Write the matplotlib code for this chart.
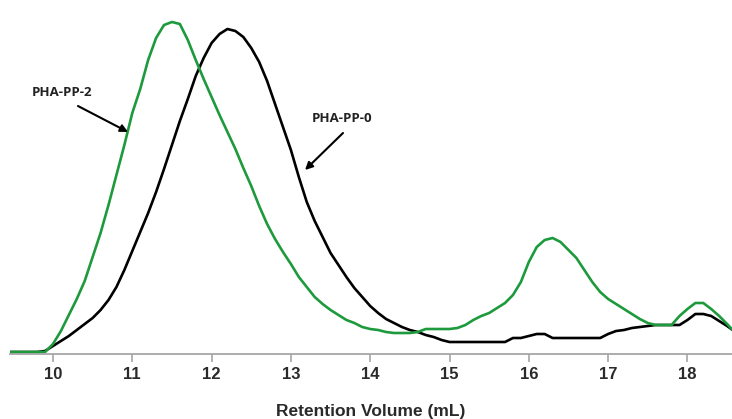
import matplotlib
matplotlib.use("Agg")
import matplotlib.pyplot as plt

volume = [9.45, 9.5, 9.6, 9.7, 9.8, 9.9,
          10.0, 10.1, 10.2, 10.3, 10.4, 10.5, 10.6, 10.7, 10.8, 10.9,
          11.0, 11.1, 11.2, 11.3, 11.4, 11.5, 11.6, 11.7, 11.8, 11.9,
          12.0, 12.1, 12.2, 12.3, 12.4, 12.5, 12.6, 12.7, 12.8, 12.9,
          13.0, 13.1, 13.2, 13.3, 13.4, 13.5, 13.6, 13.7, 13.8, 13.9,
          14.0, 14.1, 14.2, 14.3, 14.4, 14.5, 14.6, 14.7, 14.8, 14.9,
          15.0, 15.1, 15.2, 15.3, 15.4, 15.5, 15.6, 15.7, 15.8, 15.9,
          16.0, 16.1, 16.2, 16.3, 16.4, 16.5, 16.6, 16.7, 16.8, 16.9,
          17.0, 17.1, 17.2, 17.3, 17.4, 17.5, 17.6, 17.7, 17.8, 17.9,
          18.0, 18.1, 18.2, 18.3, 18.4, 18.5, 18.57]

pha_pp_2 = [2, 2, 2, 2, 2, 2,
            10, 23, 39, 55, 73, 97, 121, 149, 179, 209,
            241, 265, 294, 316, 329, 332, 330, 314, 294, 275,
            257, 239, 222, 205, 186, 168, 148, 130, 115, 102,
            90, 77, 67, 57, 50, 44, 39, 34, 31, 27,
            25, 24, 22, 21, 21, 21, 22, 25, 25, 25,
            25, 26, 29, 34, 38, 41, 46, 51, 59, 72,
            92, 107, 114, 116, 112, 104, 96, 84, 72, 62,
            55, 50, 45, 40, 35, 31, 29, 29, 29, 38,
            45, 51, 51, 45, 38, 30, 24]

pha_pp_0 = [2, 2, 2, 2, 2, 3,
            8, 13, 18, 24, 30, 36, 44, 54, 67, 84,
            103, 122, 141, 162, 185, 209, 233, 255, 278, 296,
            311, 320, 325, 323, 317, 306, 292, 273, 250, 227,
            204, 177, 152, 133, 117, 101, 89, 77, 66, 57,
            48, 41, 35, 31, 27, 24, 22, 19, 17, 14,
            12, 12, 12, 12, 12, 12, 12, 12, 16, 16,
            18, 20, 20, 16, 16, 16, 16, 16, 16, 16,
            20, 23, 24, 26, 27, 28, 29, 29, 29, 29,
            34, 40, 40, 38, 33, 28, 24]

xticks = [10, 11, 12, 13, 14, 15, 16, 17, 18]

fig = plt.figure(figsize=(7.32, 4.19), dpi=100)
ax = fig.add_axes([10 / 732, 65 / 419, 722 / 732, 354 / 419])

ax.plot(volume, pha_pp_0, color="black", lw=1.9, solid_joinstyle="round")
ax.plot(volume, pha_pp_2, color="#1d9a3c", lw=1.9, solid_joinstyle="round")

ax.set_xlim(9.458, 18.562)
ax.set_ylim(0, 354)

for s in ["top", "left", "right"]:
    ax.spines[s].set_visible(False)
ax.spines["bottom"].set_color("#a6a6a6")
ax.spines["bottom"].set_linewidth(1.3)
ax.set_yticks([])
ax.set_xticks(xticks)
ax.set_xticklabels([str(t) for t in xticks], fontfamily="Liberation Sans",
                   fontweight="bold", fontsize=12, color="#2a2a2a")
ax.tick_params(axis="x", direction="out", length=6, width=1.2,
               color="#a6a6a6", pad=3)
ax.set_xlabel("Retention Volume (mL)", fontfamily="Liberation Sans",
              fontweight="bold", fontsize=12.5, color="#2a2a2a", labelpad=16)

arrow = dict(arrowstyle="-|>", lw=1.5, color="black", mutation_scale=11,
             shrinkA=0, shrinkB=0)
ax.annotate("", xy=(10.946, 222), xytext=(10.315, 248), arrowprops=arrow)
ax.text(10.11, 261, "PHA-PP-2", ha="center", va="center",
        fontfamily="Open Sans", fontweight="bold", fontsize=9.5, color="#222222")
ax.annotate("", xy=(13.178, 184), xytext=(13.657, 221), arrowprops=arrow)
ax.text(13.645, 236, "PHA-PP-0", ha="center", va="center",
        fontfamily="Open Sans", fontweight="bold", fontsize=9.5, color="#222222")

fig.savefig("out.png", dpi=100)
